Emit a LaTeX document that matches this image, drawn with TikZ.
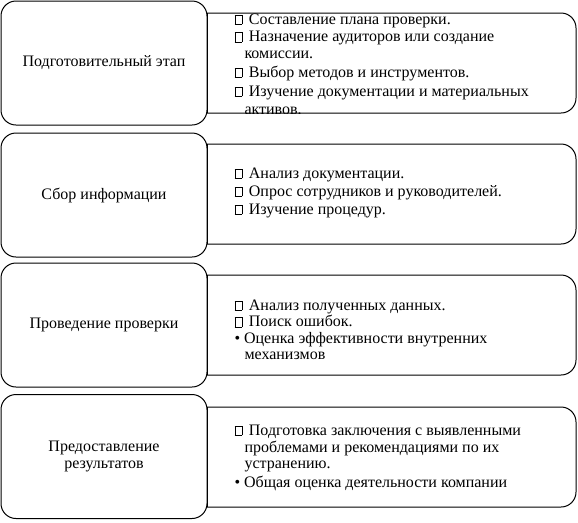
\documentclass[tikz,border=0pt]{standalone}
\usepackage{fontspec}
\setmainfont{Liberation Serif}
\newcommand{\sqbox}{{\setlength{\fboxsep}{0pt}\setlength{\fboxrule}{0.5pt}\fbox{\rule{0pt}{6.6pt}\hspace{4.8pt}}}\hspace{5pt}}
\begin{document}
\begin{tikzpicture}[x=0.75pt,y=-0.75pt, line width=0.75pt,
  txt/.style={font=\fontsize{12}{14}\selectfont},
  stage/.style={draw, txt, rounded corners=11.25pt, minimum width=154.5pt, minimum height=93pt, align=center, inner sep=0pt},
  item/.style={anchor=base west, inner sep=0pt, txt},
  panel/.style={rounded corners=11.25pt}]
\useasboundingbox (0,0) rectangle (578,522);

% right panels: text
\begin{scope}
\clip (207,13) rectangle (577,113);
\node[item] (a1) at (234,24) {\sqbox Составление плана проверки.};
\node[item] (a2) at (234,41.5) {\sqbox Назначение аудиторов или создание};
\node[item] (a3) at (244,58) {комиссии.};
\node[item] (a4) at (234,77) {\sqbox Выбор методов и инструментов.};
\node[item] (a5) at (234,96) {\sqbox Изучение документации и материальных};
\node[item] (a6) at (244,114) {активов.};
\end{scope}

\node[item] (b1) at (234,178) {\sqbox Анализ документации.};
\node[item] (b2) at (234,196) {\sqbox Опрос сотрудников и руководителей.};
\node[item] (b3) at (234,214) {\sqbox Изучение процедур.};

\node[item] (c1) at (234,310) {\sqbox Анализ полученных данных.};
\node[item] (c2) at (234,326.5) {\sqbox Поиск ошибок.};
\node[item] (c3) at (234,343) {• Оценка эффективности внутренних};
\node[item] (c4) at (244,359) {механизмов};

\node[item] (d1) at (234,435) {\sqbox Подготовка заключения с выявленными};
\node[item] (d2) at (244,452) {проблемами и рекомендациями по их};
\node[item] (d3) at (244,468.5) {устранению.};
\node[item] (d4) at (234,487) {• Общая оценка деятельности компании};

% right panels: frames
\foreach \t/\b in {13/113,144/244,275/375,407/507}{
  \draw[panel] (207,\t) -- (576,\t) -- (576,\b) -- (207,\b);
  \draw (207,\t) -- (207,\b);
}

% left stages
\node[stage] (s1) at (104,63) {Подготовительный этап};
\node[stage] (s2) at (104,195) {Сбор информации};
\node[stage] (s3) at (104,325) {Проведение проверки};
\node[stage] (s4) at (104,456.5) {Предоставление\\[-1pt]результатов};
\end{tikzpicture}
\end{document}
